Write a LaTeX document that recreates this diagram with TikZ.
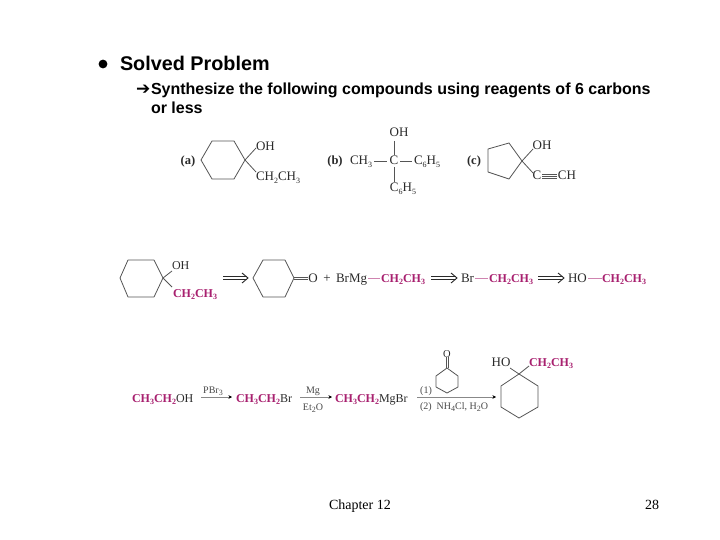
\documentclass[tikz,border=0pt]{standalone}
\usepackage{fontspec}
\setmainfont{Liberation Serif}
\newfontfamily\arialf{Liberation Sans}
\newfontfamily\dejaf{DejaVu Sans}
\usetikzlibrary{arrows.meta}
\definecolor{chemmag}{HTML}{A8206F}
\definecolor{chemink}{HTML}{2A2A2A}
\definecolor{bondgrey}{HTML}{555555}
\newcommand\sbs[1]{\raisebox{-.22em}{\fontsize{8}{8}\selectfont #1}}
\newcommand\retroarrow[2]{%
  \draw[draw=chemink,line width=.9pt] ([yshift=-1.5pt]#1) -- ([yshift=-1.5pt,xshift=-1pt]#2);
  \draw[draw=chemink,line width=.9pt] ([yshift=1.5pt]#1) -- ([yshift=1.5pt,xshift=-1pt]#2);
  \draw[draw=chemink,line width=.9pt,line join=miter] ([xshift=-6pt,yshift=-5pt]#2) -- (#2) -- ([xshift=-6pt,yshift=5pt]#2);
}
\tikzset{
  every node/.style={inner sep=0pt,outer sep=0pt},
  bond/.style={draw=bondgrey,line width=.8pt,line join=round},
  pinkbond/.style={draw=chemmag!55!white,line width=.8pt},
  chemtxt/.style={font=\fontsize{13}{14}\selectfont,text=chemink,anchor=base west},
  chemc/.style={font=\fontsize{13}{14}\selectfont,text=chemink,anchor=base},
  magtxt/.style={font=\fontsize{12}{13}\selectfont\bfseries,text=chemmag,anchor=base west},
  smalltxt/.style={font=\fontsize{10}{11}\selectfont,text=chemink!85!white,anchor=base},
  head/.style={font=\arialf\bfseries\fontsize{16}{18}\selectfont,text=black,anchor=base west},
  foot/.style={font=\fontsize{14}{16}\selectfont,text=black,anchor=base west},
  rxn/.style={draw=bondgrey!70!white,line width=.8pt,-{Stealth[length=3.5pt,width=3.5pt,color=black]}}
}
\begin{document}
\begin{tikzpicture}[x=1pt,y=-1pt]
\useasboundingbox (0,0) rectangle (720,540);
\fill[white] (0,0) rectangle (720,540);
% header
\fill[black] (103,64) circle (4.4) coordinate (bul);
\node[head,font=\arialf\bfseries\fontsize{19.8}{22}\selectfont] (title) at (120,71) {Solved Problem};
\node[head,font=\dejaf\bfseries\fontsize{17}{18}\selectfont] (arr) at (136,95) {➔};
\node[head] (l1) at (151,94.5) {Synthesize the following compounds using reagents of 6 carbons};
\node[head] (l2) at (151,114) {or less};
% (a)
\node[chemc,font=\fontsize{12.5}{13}\selectfont\bfseries] (la) at (188,165) {(a)};
\draw[bond] (201,160) -- (212,141) -- (234,141) -- (245,160) coordinate (a1) -- (234,179) -- (212,179) -- cycle;
\coordinate (a2) at (256,148); \coordinate (a3) at (256,172);
\draw[bond] (a1) -- (a2); \draw[bond] (a1) -- (a3);
\node[chemtxt] (aoh) at (256,151) {OH};
\node[chemtxt] (aet) at (256,181) {CH\sbs{2}CH\sbs{3}};
% (b)
\node[chemc,font=\fontsize{12.5}{13}\selectfont\bfseries] (lb) at (335,165) {(b)};
\node[chemtxt] (bch) at (350,165) {CH\sbs{3}};
\node[chemc] (bc) at (394,165) {C};
\node[chemtxt] (bph) at (414,165) {C\sbs{6}H\sbs{5}};
\node[chemc] (boh) at (399,137) {OH};
\node[chemc] (bpd) at (403,192) {C\sbs{6}H\sbs{5}};
\coordinate (b1) at (374,161); \coordinate (b1e) at (387,161);
\coordinate (b5) at (400,161); \coordinate (b5e) at (412,161);
\draw[bond] (b1) -- (b1e);
\draw[bond] (b5) -- (b5e);
\coordinate (b2) at (394.5,141); \coordinate (b2e) at (394.5,155);
\draw[bond] (b2) -- (b2e);
\coordinate (b3) at (394.5,167); \coordinate (b4) at (394.5,182);
\draw[bond] (b3) -- (b4);
% (c)
\node[chemc,font=\fontsize{12.5}{13}\selectfont\bfseries] (lc) at (474,165) {(c)};
\draw[bond] (522,161) coordinate (c1) -- (509,143) -- (488,149) -- (488,172) -- (509,179) -- cycle;
\coordinate (c2) at (533,149); \coordinate (c3) at (533,173);
\draw[bond] (c1) -- (c2); \draw[bond] (c1) -- (c3);
\node[chemc] (coh) at (542,150) {OH};
\node[chemc] (cc) at (537,180) {C};
\node[chemc] (cch) at (567,180) {CH};
\coordinate (c4) at (542,176); \coordinate (c5) at (557,176);
\draw[bond,line width=.7pt] (c4) -- (c5);
\draw[bond,line width=.7pt] ([yshift=-2pt]c4) -- ([yshift=-2pt]c5);
\draw[bond,line width=.7pt] ([yshift=2pt]c4) -- ([yshift=2pt]c5);
% retro row
\draw[bond] (120,278) -- (128,260) -- (154,260) -- (163,278) coordinate (d1) -- (154,297) -- (128,297) -- cycle;
\coordinate (d2) at (172,271); \coordinate (d3) at (172,287);
\draw[bond] (d1) -- (d2); \draw[bond] (d1) -- (d3);
\node[chemtxt,font=\fontsize{12}{13}\selectfont] (doh) at (172,269) {OH};
\node[magtxt] (det) at (173,297) {CH\sbs{2}CH\sbs{3}};
\coordinate (r1a) at (223,278); \coordinate (r1b) at (248,278);
\retroarrow{r1a}{r1b}
\draw[bond] (253,278) -- (263,260) -- (285,260) -- (294,278) coordinate (e1) -- (285,297) -- (263,297) -- cycle;
\node[chemc] (eo) at (313,282) {O};
\draw[bond] ([yshift=-1pt]e1) -- ([yshift=-1pt]eo.west |- e1);
\draw[bond] ([yshift=1pt]e1) -- ([yshift=1pt]eo.west |- e1);
\node[chemc] (plus) at (327,282) {+};
\node[chemtxt] (brmg) at (336,282) {BrMg};
\node[magtxt] (f1) at (381,282) {CH\sbs{2}CH\sbs{3}};
\coordinate (f0) at (368,278); \coordinate (f00) at (380,278);
\draw[pinkbond] (f0) -- (f00);
\coordinate (r2a) at (431,278); \coordinate (r2b) at (457,278);
\retroarrow{r2a}{r2b}
\node[chemtxt] (br) at (461,282) {Br};
\coordinate (g0) at (475,278); \coordinate (g00) at (488,278);
\draw[pinkbond] (g0) -- (g00);
\node[magtxt] (g1) at (489,282) {CH\sbs{2}CH\sbs{3}};
\coordinate (r3a) at (538,278); \coordinate (r3b) at (564,278);
\retroarrow{r3a}{r3b}
\node[chemtxt] (ho) at (568,282) {HO};
\coordinate (h0) at (588,278); \coordinate (h00) at (602,278);
\draw[pinkbond] (h0) -- (h00);
\node[magtxt] (h1) at (602,282) {CH\sbs{2}CH\sbs{3}};
% forward row
\node[magtxt] (s1) at (132,402) {CH\sbs{3}CH\sbs{2}\textmd{\textcolor{chemink}{OH}}};
\coordinate (p1a) at (201,397); \coordinate (p1b) at (232,397);
\draw[rxn] (p1a) -- (p1b);
\node[smalltxt] (pbr) at (213,393) {PBr\sbs{3}};
\node[magtxt] (s2) at (236,402) {CH\sbs{3}CH\sbs{2}\textmd{\textcolor{chemink}{Br}}};
\coordinate (p2a) at (300,397); \coordinate (p2b) at (332,397);
\draw[rxn] (p2a) -- (p2b);
\node[smalltxt] (mg) at (313,393) {Mg};
\node[smalltxt] (et) at (313,410) {Et\sbs{2}O};
\node[magtxt] (s3) at (335,402) {CH\sbs{3}CH\sbs{2}\textmd{\textcolor{chemink}{MgBr}}};
\coordinate (p3a) at (417,397); \coordinate (p3b) at (496,397);
\draw[rxn] (p3a) -- (p3b);
\node[smalltxt] (st1) at (426,393) {(1)};
\node[smalltxt,anchor=base west] (st2) at (420,409) {(2)\ \ NH\sbs{4}Cl, H\sbs{2}O};
\draw[bond] (447,368) coordinate (k1) -- (458,376) -- (458,387) -- (447,393) -- (436,387) -- (436,376) -- cycle;
\node[chemc,font=\fontsize{10.5}{11}\selectfont] (ko) at (447,357) {O};
\draw[bond,line width=.6pt] ([xshift=-1pt]k1) -- ([xshift=-1pt]ko.south -| k1);
\draw[bond,line width=.6pt] ([xshift=1pt]k1) -- ([xshift=1pt]ko.south -| k1);
\draw[bond] (519,374) coordinate (m1) -- (538,386) -- (538,407) -- (519,418) -- (501,407) -- (501,386) -- cycle;
\coordinate (m2) at (510,368); \coordinate (m3) at (529,366);
\draw[bond] (m1) -- (m2); \draw[bond] (m1) -- (m3);
\node[chemc] (mho) at (501,366) {HO};
\node[magtxt] (met) at (529,366) {CH\sbs{2}CH\sbs{3}};
% footer
\node[foot] (ch) at (329,509) {Chapter 12};
\node[foot] (pg) at (645,509) {28};
\end{tikzpicture}
\end{document}
